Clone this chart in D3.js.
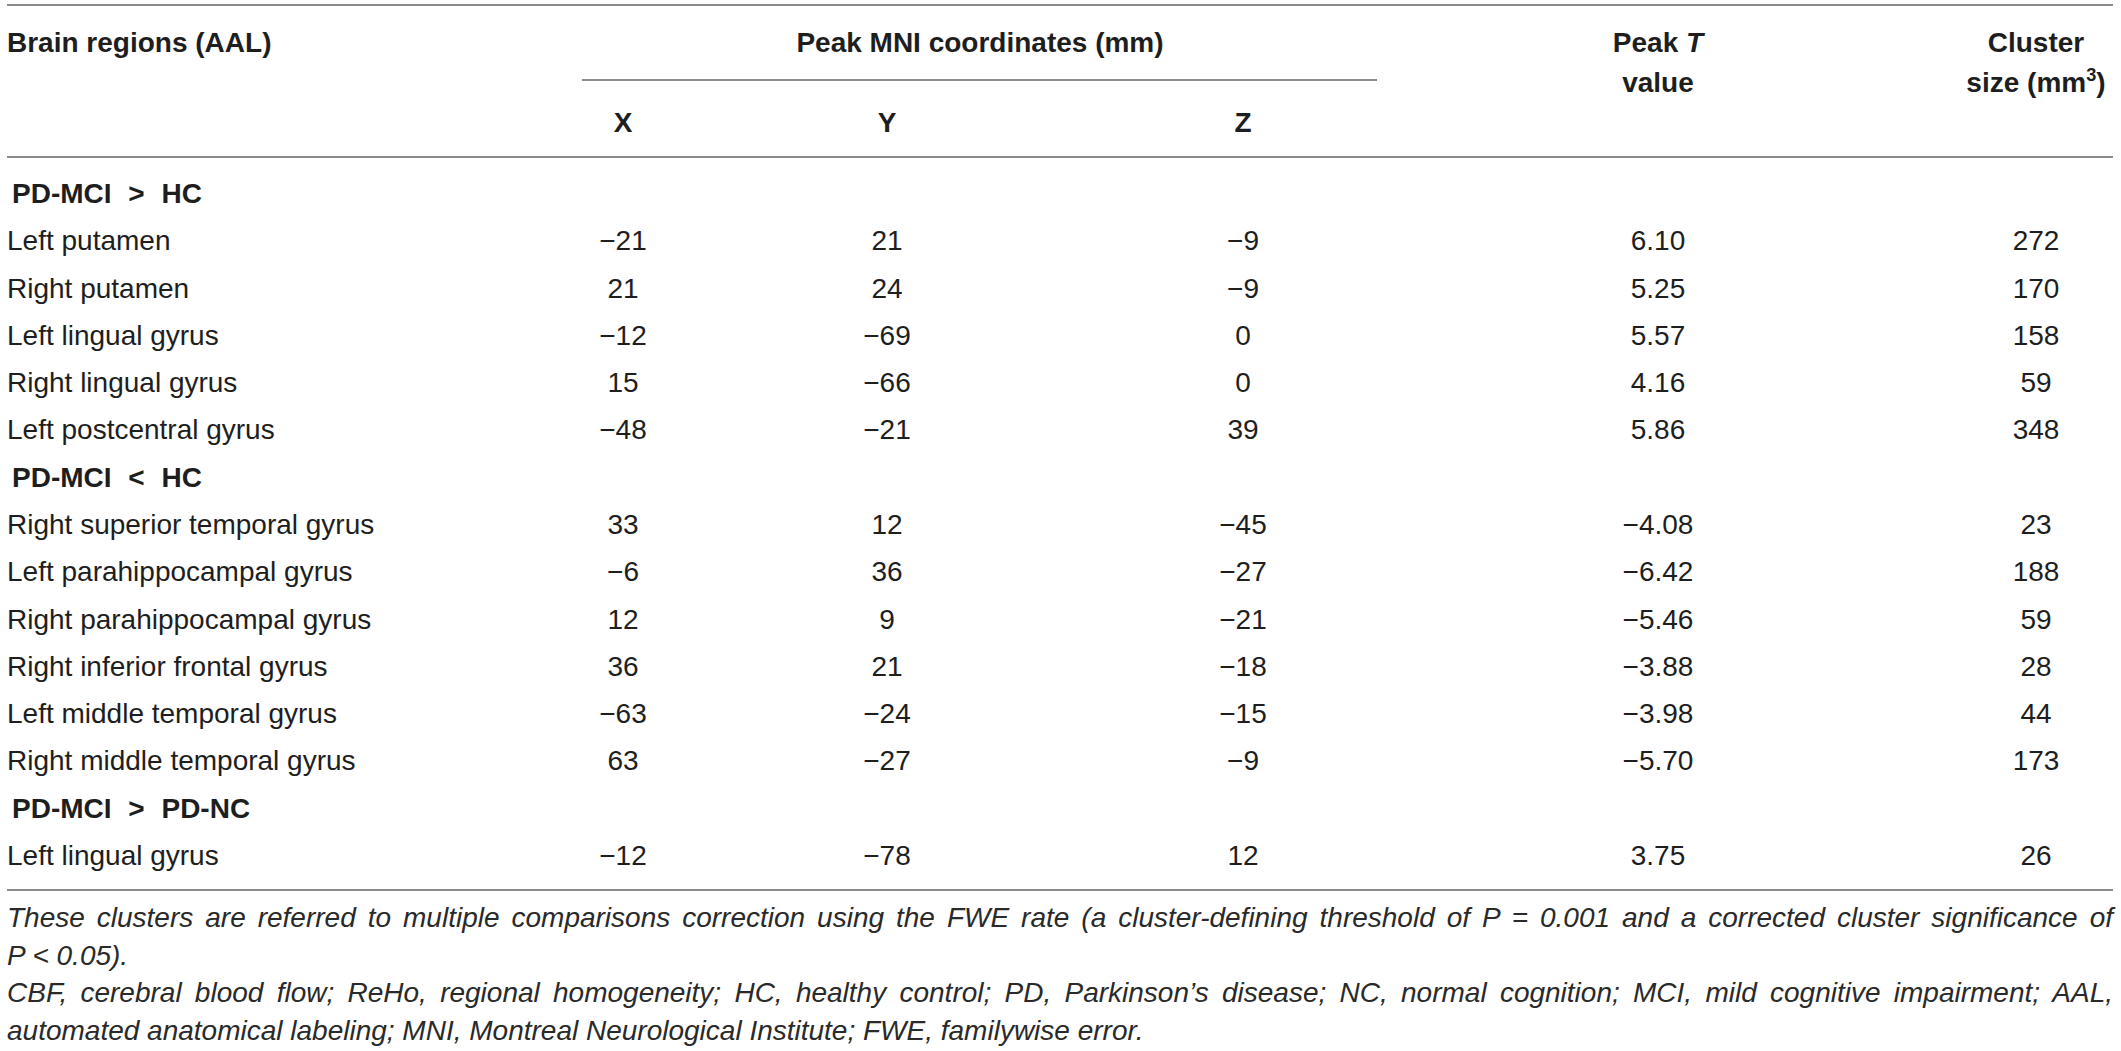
<!DOCTYPE html>
<html>
<head>
<meta charset="utf-8">
<script src="https://cdn.jsdelivr.net/npm/d3@7"></script>
<style>
  body { margin: 0; background: #fff; }
  svg text { font-family: "Liberation Sans", Arial, Helvetica, sans-serif; }
</style>
</head>
<body>
<div id="table"></div>
<script>
// Table values
const groups = ["PD-MCI > HC", "PD-MCI < HC", "PD-MCI > PD-NC"];
const regions = [
  "Left putamen", "Right putamen", "Left lingual gyrus", "Right lingual gyrus",
  "Left postcentral gyrus", "Right superior temporal gyrus", "Left parahippocampal gyrus",
  "Right parahippocampal gyrus", "Right inferior frontal gyrus", "Left middle temporal gyrus",
  "Right middle temporal gyrus", "Left lingual gyrus"
];
const regionGroup = [0, 0, 0, 0, 0, 1, 1, 1, 1, 1, 1, 2];
const peakX = [-21, 21, -12, 15, -48, 33, -6, 12, 36, -63, 63, -12];
const peakY = [21, 24, -69, -66, -21, 12, 36, 9, 21, -24, -27, -78];
const peakZ = [-9, -9, 0, 0, 39, -45, -27, -21, -18, -15, -9, 12];
const peakT = [6.10, 5.25, 5.57, 4.16, 5.86, -4.08, -6.42, -5.46, -3.88, -3.98, -5.70, 3.75];
const clusterSize = [272, 170, 158, 59, 348, 23, 188, 59, 28, 44, 173, 26];
const valueColumns = ["x", "y", "z", "t", "size"];
const footnoteLines = [
  "These clusters are referred to multiple comparisons correction using the FWE rate (a cluster-defining threshold of P = 0.001 and a corrected cluster significance of",
  "P < 0.05).",
  "CBF, cerebral blood flow; ReHo, regional homogeneity; HC, healthy control; PD, Parkinson\u2019s disease; NC, normal cognition; MCI, mild cognitive impairment; AAL,",
  "automated anatomical labeling; MNI, Montreal Neurological Institute; FWE, familywise error."
];
const footnoteJustify = [true, false, true, false];

const W = 2121, H = 1051;
const left = 7, right = 2113;
const fs = 28;
const ink = "#1e1e1e";
const rule = "#8c8c8c";

const svg = d3.select("#table").append("svg")
  .attr("width", W).attr("height", H);

// Build row list: group rows interleaved with data rows
const rows = [];
regions.forEach((r, i) => {
  if (i === 0 || regionGroup[i] !== regionGroup[i - 1]) {
    rows.push({ type: "group", label: groups[regionGroup[i]] });
  }
  rows.push({
    type: "data", label: r,
    x: peakX[i], y: peakY[i], z: peakZ[i], t: peakT[i], size: clusterSize[i]
  });
});

const rowY = d3.scaleLinear().domain([0, rows.length - 1]).range([203, 865]);
const colX = d3.scaleOrdinal().domain(valueColumns).range([623, 887, 1243, 1658, 2036]);

const minus = v => (v < 0 ? "\u2212" : "") + Math.abs(v);
const fmt = {
  x: minus, y: minus, z: minus,
  t: v => (v < 0 ? "\u2212" : "") + Math.abs(v).toFixed(2),
  size: v => String(v)
};

// Rules
const rules = [
  { x1: left, x2: right, y: 5 },
  { x1: 582, x2: 1377, y: 80 },
  { x1: left, x2: right, y: 157 },
  { x1: left, x2: right, y: 890 }
];
svg.append("g").selectAll("line")
  .data(rules)
  .join("line")
  .attr("x1", d => d.x1).attr("x2", d => d.x2)
  .attr("y1", d => d.y).attr("y2", d => d.y)
  .attr("stroke", rule).attr("stroke-width", 2);

// Header
const head = svg.append("g")
  .attr("font-size", fs).attr("font-weight", 700).attr("fill", ink);

head.append("text").attr("x", left).attr("y", 52).text("Brain regions (AAL)");
head.append("text").attr("x", 980).attr("y", 52).attr("text-anchor", "middle")
  .text("Peak MNI coordinates (mm)");

const tHead = head.append("text").attr("x", colX("t")).attr("y", 52).attr("text-anchor", "middle");
tHead.append("tspan").text("Peak ");
tHead.append("tspan").attr("font-style", "italic").text("T");
head.append("text").attr("x", colX("t")).attr("y", 92).attr("text-anchor", "middle").text("value");

head.append("text").attr("x", colX("size")).attr("y", 52).attr("text-anchor", "middle").text("Cluster");
const sHead = head.append("text").attr("x", colX("size")).attr("y", 92).attr("text-anchor", "middle");
sHead.append("tspan").text("size (mm");
sHead.append("tspan").attr("font-size", fs * 0.65).attr("dy", -11).text("3");
sHead.append("tspan").attr("dy", 11).text(")");

head.selectAll(".axis-head")
  .data(["x", "y", "z"])
  .join("text")
  .attr("class", "axis-head")
  .attr("x", d => colX(d)).attr("y", 132)
  .attr("text-anchor", "middle")
  .text(d => d.toUpperCase());

// Body rows
const body = svg.append("g").attr("font-size", fs).attr("fill", ink);

const rowG = body.selectAll("g.row")
  .data(rows)
  .join("g")
  .attr("class", "row")
  .attr("transform", (d, i) => `translate(0,${rowY(i)})`);

rowG.append("text")
  .attr("x", d => d.type === "group" ? left + 5 : left)
  .attr("font-weight", d => d.type === "group" ? 700 : 400)
  .attr("word-spacing", d => d.type === "group" ? 9 : 0)
  .text(d => d.label);

rowG.filter(d => d.type === "data")
  .selectAll("text.val")
  .data(d => valueColumns.map(c => ({ col: c, v: d[c] })))
  .join("text")
  .attr("class", "val")
  .attr("x", d => colX(d.col))
  .attr("text-anchor", "middle")
  .text(d => fmt[d.col](d.v));

// Footnotes
const foot = svg.append("g")
  .attr("font-size", fs).attr("font-style", "italic").attr("fill", "#2a2a2a");

const footY = [927, 965, 1002, 1040];
foot.selectAll("text")
  .data(footnoteLines)
  .join("text")
  .attr("x", left)
  .attr("y", (d, i) => footY[i])
  .text(d => d)
  .each(function(d, i) {
    if (!footnoteJustify[i]) return;
    const natural = this.getComputedTextLength();
    const gaps = (d.match(/ /g) || []).length;
    const extra = (right - left - natural) / gaps;
    d3.select(this).attr("word-spacing", extra);
  });
</script>
</body>
</html>
